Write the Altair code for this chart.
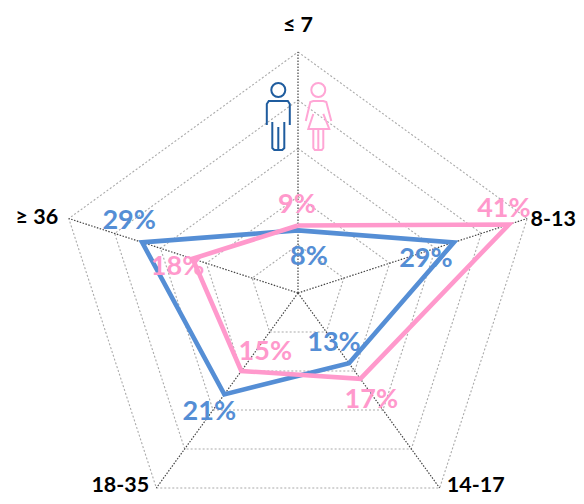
import math
import altair as alt
import pandas as pd

categories = ["≤ 7", "8-13", "14-17", "18-35", "≥ 36"]
male = [8, 29, 13, 21, 29]
female = [9, 41, 17, 15, 18]
ring_values = [5, 15, 25, 35, 45]
AXIS_MIN, AXIS_MAX = -5, 45

# Label nudges from the data point, in pixels (dx, dy with y downward)
male_offsets = [(11, 26.5), (-28, 17), (-15, -20), (-15, 17.5), (-13, -21)]
female_offsets = [(-1, -20.5), (-5, -15), (11, 21.5), (24, -18.5), (-15, 8.5)]
cat_anchor = [(0, -26), (26, 1.5), (36, -2), (-36, -2), (-32, -1)]

W, H = 568, 488
CX, CY, R = 290, 285, 241


def pos(v, i):
    f = (v - AXIS_MIN) / (AXIS_MAX - AXIS_MIN)
    a = 2 * math.pi * i / 5
    return f * math.sin(a), f * math.cos(a)


x_scale = alt.Scale(domain=[-CX / R, (W - CX) / R], nice=False, zero=False)
y_scale = alt.Scale(domain=[-(H - CY) / R, CY / R], nice=False, zero=False)
X = lambda f="x": alt.X(f"{f}:Q", scale=x_scale, axis=None)
Y = lambda f="y": alt.Y(f"{f}:Q", scale=y_scale, axis=None)


def loop(vals, key):
    rows = []
    for k in range(6):
        x, y = pos(vals[k % 5], k % 5)
        rows.append({"x": x, "y": y, "k": k, "key": key})
    return rows


rings = pd.DataFrame([r for v in ring_values for r in loop([v] * 5, str(v))])
spokes = pd.DataFrame(
    [
        {"x": x, "y": y, "k": k, "key": str(i)}
        for i in range(5)
        for k, (x, y) in enumerate([(0, 0), pos(AXIS_MAX, i)])
    ]
)

ring_layer = (
    alt.Chart(rings)
    .mark_line(color="#aaaaaa", strokeWidth=1.1, strokeDash=[2, 2])
    .encode(x=X(), y=Y(), order="k:Q", detail="key:N")
)
spoke_layer = (
    alt.Chart(spokes)
    .mark_line(color="#444444", strokeWidth=1.2, strokeDash=[1.5, 1.5])
    .encode(x=X(), y=Y(), order="k:Q", detail="key:N")
)


def series_line(vals, color):
    return (
        alt.Chart(pd.DataFrame(loop(vals, "s")))
        .mark_line(color=color, strokeWidth=4.6, strokeJoin="miter")
        .encode(x=X(), y=Y(), order="k:Q")
    )


def value_labels(vals, offsets, color):
    rows = []
    for i, v in enumerate(vals):
        x, y = pos(v, i)
        rows.append(
            {"x": x + offsets[i][0] / R, "y": y - offsets[i][1] / R, "t": f"{v}%"}
        )
    return (
        alt.Chart(pd.DataFrame(rows))
        .mark_text(
            font="Lato", fontWeight="bold", fontSize=27, color=color,
            align="center", baseline="middle",
        )
        .encode(x=X(), y=Y(), text="t:N")
    )


cat_rows = []
for i, c in enumerate(categories):
    x, y = pos(AXIS_MAX, i)
    cat_rows.append(
        {"x": x + cat_anchor[i][0] / R, "y": y - cat_anchor[i][1] / R, "t": c}
    )
cat_layer = (
    alt.Chart(pd.DataFrame(cat_rows))
    .mark_text(
        font="Lato", fontWeight="bold", fontSize=21.5, color="#000000",
        align="center", baseline="middle",
    )
    .encode(x=X(), y=Y(), text="t:N")
)


# Person pictograms, as symbol paths in a unit box
def shape_path(polys, half):
    parts = []
    for poly in polys:
        pts = [f"{px / half:.3f},{py / half:.3f}" for px, py in poly]
        parts.append("M" + "L".join(pts))
    return "".join(parts)


man = shape_path(
    [
        [(-11.5, 8), (-11.5, -13), (-9.5, -16), (9.5, -16), (11.5, -13), (11.5, 8)],
        [(-6, 5), (-6, 31), (-4, 33), (4, 33), (6, 31), (6, 5)],
        [(0, 10), (0, 33)],
    ],
    33.5,
)
woman = shape_path(
    [
        [(-12.5, 4), (-8, -15), (-5, -16), (5, -16), (8, -15), (13, 4)],
        [(-5, -3), (-10, 12), (11, 12), (5, -3)],
        [(-5, 12), (-5, 31), (-3.5, 33), (3.5, 33), (5, 31), (5, 12)],
        [(0, 12), (0, 33)],
    ],
    33.5,
)


def px_data(px, py):
    return {"x": (px - 298) / R, "y": (293 - py) / R}


def icon(path, body_at, head_at, color):
    body = (
        alt.Chart(pd.DataFrame([px_data(*body_at)]))
        .mark_point(shape=path, size=4489, filled=False, color=color, strokeWidth=2, opacity=1)
        .encode(x=X(), y=Y())
    )
    head = (
        alt.Chart(pd.DataFrame([px_data(*head_at)]))
        .mark_point(shape="circle", size=196, filled=False, color=color, strokeWidth=2, opacity=1)
        .encode(x=X(), y=Y())
    )
    return body + head


chart = (
    alt.layer(
        ring_layer,
        spoke_layer,
        icon(man, (278.3, 117), (278.3, 90), "#1F5C9E"),
        icon(woman, (318.3, 117), (318.3, 90), "#FFA6D5"),
        series_line(male, "#558ED5"),
        series_line(female, "#FF99CC"),
        value_labels(male, male_offsets, "#558ED5"),
        value_labels(female, female_offsets, "#FF99CC"),
        cat_layer,
    )
    .properties(width=W, height=H, padding=0, autosize=alt.AutoSizeParams(type="none"))
    .configure_view(stroke=None)
)

chart.save("out.html", embed_options={"renderer": "svg", "actions": False})
